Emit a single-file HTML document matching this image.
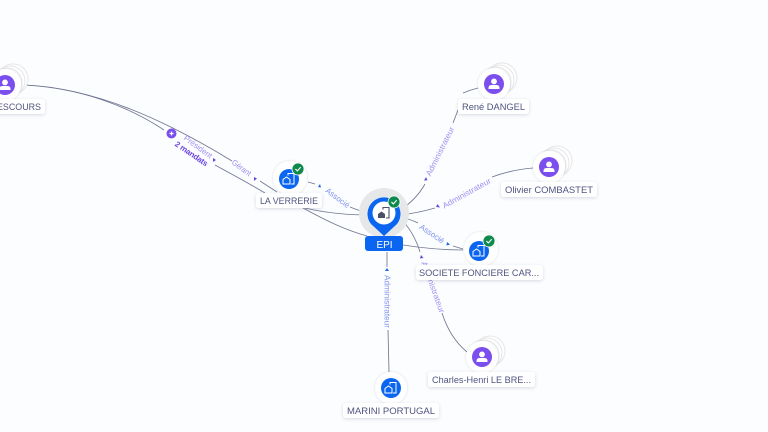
<!DOCTYPE html>
<html><head><meta charset="utf-8">
<style>
html,body{margin:0;padding:0;background:#fcfdff;width:768px;height:432px;overflow:hidden}
svg{display:block}
text{font-family:"Liberation Sans",sans-serif}
.l{fill:#4f5480;font-size:9.5px;text-anchor:middle}
.e{fill:#a08ff2;font-size:8px;text-anchor:middle}
.f{fill:#7f94ee;font-size:8px;text-anchor:middle}
.c{fill:none;stroke:#6f7690;stroke-width:.85}
.b{fill:#fff;filter:url(#s)}
.w{fill:#fff;stroke:#e6e6e8;stroke-width:1}
.a{fill:#6a45e0}
</style></head><body>
<svg width="768" height="432" viewBox="0 0 768 432" xmlns="http://www.w3.org/2000/svg">
<defs>
<filter id="s" x="-20%" y="-40%" width="140%" height="200%"><feDropShadow dx="0" dy="1" stdDeviation="1.500" flood-color="#3a4060" flood-opacity=".2"/></filter>
<filter id="n" x="-30%" y="-30%" width="160%" height="160%"><feDropShadow dx="0" dy="0" stdDeviation="1" flood-color="#3a4060" flood-opacity=".2"/></filter>
<g id="person">
<circle cx="8" cy="-6" r="15" class="w"/><circle cx="5" cy="-4" r="15" class="w"/><circle cx="2" cy="-2" r="15" class="w"/>
<circle cx="0" cy="0" r="16" fill="#fff" filter="url(#n)"/>
<circle r="10" fill="#7b4fee"/>
<circle cy="-2.600" r="2.900" fill="#fff"/><path d="M-5.500,5 v-1 q0,-3 3,-3 h5 q3,0 3,3 v1 z" fill="#fff"/>
</g>
<g id="bld" fill="none" stroke="#fff" stroke-width="1">
<path d="M-6,5 v-4.500 l3.500,-2.500 l3.500,2.500 v4.500 z"/><path d="M-1,-3.500 v-2 h6 v10.500 h-3"/>
</g>
<g id="check"><circle r="6" fill="#0e8a4e" stroke="#fff" stroke-width=".8"/><path d="M-2.600,0 l1.900,1.900 l3.400,-3.600" fill="none" stroke="#fff" stroke-width="1.100"/></g>
</defs>

<!-- connectors -->
<path class="c" d="M25,85 C80,88 128,106 164,130"/>
<path class="c" d="M215,165 C235,176 250,184 265,193"/>
<path class="c" d="M303,208 C325,220 345,230 367,236"/>
<path class="c" d="M25,85 C95,88 165,120 232,161"/>
<path class="c" d="M260,181 L277,192"/>
<path class="c" d="M308,182 L315,184"/>
<path class="c" d="M350,207 Q360,211 368,213"/>
<path class="c" d="M305,208 C325,213 350,215 368,215"/>
<path class="c" d="M400,210 Q416,200 425,184"/>
<path class="c" d="M453,123 L458,110"/>
<path class="c" d="M463,93 Q470,90 478,88"/>
<path class="c" d="M400,215 Q418,213 435,208"/>
<path class="c" d="M492,177 Q510,170 533,168"/>
<path class="c" d="M400,217 Q410,219 418,223"/>
<path class="c" d="M453,246 L463,249"/>
<path class="c" d="M403,245 Q435,250 463,250"/>
<path class="c" d="M400,218 Q414,232 420,252"/>
<path class="c" d="M442,313 Q450,338 467,352"/>
<path class="c" d="M387,252 V267"/>
<path class="c" d="M388,330 L389,372"/>

<!-- edge labels and arrows -->
<circle cx="171.500" cy="133.500" r="5" fill="#7b4fee"/>
<path d="M169.500,133.500 h4 M171.500,131.500 v4" stroke="#fff" stroke-width="1.200"/>
<text class="e" transform="translate(196.500,149) rotate(36)" textLength="33" lengthAdjust="spacingAndGlyphs">Président</text>
<text transform="translate(190,156) rotate(34)" font-size="8" font-weight="bold" fill="#6a45e0" text-anchor="middle" textLength="38" lengthAdjust="spacing">2 mandats</text>
<path class="a" d="M213,158 l3,2 l-3,2 z"/>
<text class="e" transform="translate(240,170) rotate(36)" textLength="22" lengthAdjust="spacingAndGlyphs">Gérant</text>
<path class="a" d="M254,177 l3,1.500 l-3,2.500 z"/>
<path d="M320,184 l-2,3 l3,.5 z" fill="#1f66e0"/>
<text class="f" transform="translate(336,200) rotate(37)" textLength="28" lengthAdjust="spacingAndGlyphs">Associé</text>
<path class="a" d="M426,177 l-2,3.500 l3.500,-.3 z"/>
<text class="e" transform="translate(442.500,152.500) rotate(-63.400)" textLength="54" lengthAdjust="spacingAndGlyphs">Administrateur</text>
<path class="a" d="M437.500,204 l-1.500,3 l4,.5 z"/>
<text class="e" transform="translate(468,195.500) rotate(-29)" textLength="54" lengthAdjust="spacingAndGlyphs">Administrateur</text>
<text class="f" transform="translate(430.500,236) rotate(34)" textLength="28" lengthAdjust="spacingAndGlyphs">Associé</text>
<path d="M447,242 l-.5,3.500 l3.500,-1 z" fill="#1f66e0"/>
<path class="a" d="M421,255 l-1,3.500 l3.500,-.5 z"/>
<text class="e" transform="translate(430.500,288) rotate(70)" textLength="54" lengthAdjust="spacingAndGlyphs">Administrateur</text>
<path d="M387,268 l-2,3 h4 z" fill="#1f66e0"/>
<text class="f" transform="translate(384.500,301.500) rotate(90)" textLength="53" lengthAdjust="spacingAndGlyphs">Administrateur</text>

<!-- left person -->
<use href="#person" x="5" y="85"/>
<rect class="b" x="-30" y="99" width="75" height="15" rx="3"/>
<text class="l" x="19" y="110" textLength="44" lengthAdjust="spacingAndGlyphs">ESCOURS</text>

<!-- La Verrerie -->
<circle cx="290" cy="178" r="17" fill="#fff" filter="url(#n)"/>
<circle cx="289" cy="179" r="10" fill="#0a66f0"/>
<use href="#bld" x="289" y="179"/>
<use href="#check" x="298" y="169"/>
<rect class="b" x="256" y="193" width="66" height="15" rx="3"/>
<text class="l" x="289" y="204" textLength="58" lengthAdjust="spacingAndGlyphs">LA VERRERIE</text>

<!-- EPI -->
<circle cx="384" cy="213" r="25" fill="#e6e7e9"/>
<path d="M384,236 L371,224 A16.500,16.500 0 1 1 397,224 Z" fill="#0a66f0"/>
<circle cx="384" cy="213" r="11.500" fill="#fff"/>
<g transform="translate(384,213)"><path d="M-6,5 v-4 l3.500,-2.500 l3.500,2.500 v4 z" fill="#4a5068"/><path d="M-1,-3.500 v-2 h6 v10.500 h-3" fill="none" stroke="#4a5068" stroke-width="1.100"/></g>
<use href="#check" x="394" y="202"/>
<rect x="365" y="236" width="38" height="15" rx="3" fill="#0a66f0"/>
<text x="384.500" y="248" fill="#fff" font-size="10" text-anchor="middle">EPI</text>

<!-- Societe -->
<circle cx="481" cy="249" r="17" fill="#fff" filter="url(#n)"/>
<circle cx="479" cy="251" r="10" fill="#0a66f0"/>
<use href="#bld" x="479" y="251"/>
<use href="#check" x="489" y="241"/>
<rect class="b" x="416" y="265" width="127" height="15" rx="3"/>
<text class="l" x="479" y="276" textLength="120" lengthAdjust="spacingAndGlyphs">SOCIETE FONCIERE CAR...</text>

<!-- Rene -->
<use href="#person" x="494" y="84"/>
<rect class="b" x="458" y="99" width="71" height="15" rx="3"/>
<text class="l" x="493.500" y="110" textLength="63" lengthAdjust="spacingAndGlyphs">René DANGEL</text>

<!-- Olivier -->
<use href="#person" x="549" y="167"/>
<rect class="b" x="501" y="182" width="96" height="15" rx="3"/>
<text class="l" x="549" y="193" textLength="88" lengthAdjust="spacingAndGlyphs">Olivier COMBASTET</text>

<!-- Charles -->
<use href="#person" x="482" y="357"/>
<rect class="b" x="428" y="372" width="107" height="15" rx="3"/>
<text class="l" x="481.500" y="383" textLength="99" lengthAdjust="spacingAndGlyphs">Charles-Henri LE BRE...</text>

<!-- Marini -->
<circle cx="391" cy="388" r="16" fill="#fff" filter="url(#n)"/>
<circle cx="391" cy="388" r="10" fill="#0a66f0"/>
<use href="#bld" x="391" y="388"/>
<rect class="b" x="343" y="403" width="96" height="15" rx="3"/>
<text class="l" x="391" y="414" textLength="88" lengthAdjust="spacingAndGlyphs">MARINI PORTUGAL</text>
</svg>
</body></html>
